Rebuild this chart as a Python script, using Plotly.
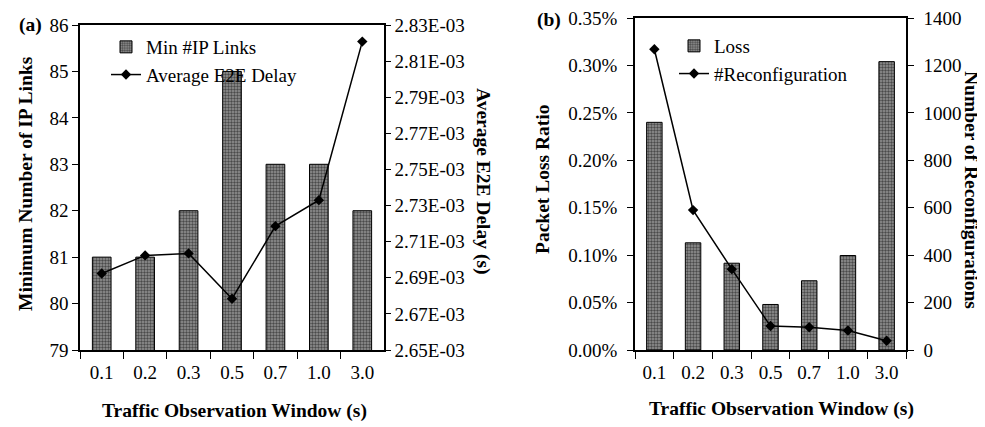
import plotly.graph_objects as go

# Data
windows = ["0.1", "0.2", "0.3", "0.5", "0.7", "1.0", "3.0"]

# (a) minimum IP links and average end-to-end delay
min_ip_links = [81, 81, 82, 85, 83, 83, 82]
avg_e2e_delay = [2.6924e-3, 2.7024e-3, 2.7035e-3, 2.6784e-3, 2.7186e-3, 2.7330e-3, 2.8208e-3]
delay_ticks = [2.65e-3, 2.67e-3, 2.69e-3, 2.71e-3, 2.73e-3, 2.75e-3, 2.77e-3, 2.79e-3, 2.81e-3, 2.83e-3]

# (b) packet loss ratio and number of reconfigurations
packet_loss = [0.00240, 0.00113, 0.000915, 0.00048, 0.00073, 0.000996, 0.00304]
reconfigs = [1268, 590, 341, 101, 96, 82, 39]
loss_ticks = [0, 0.0005, 0.001, 0.0015, 0.002, 0.0025, 0.003, 0.0035]
reconfig_ticks = [0, 200, 400, 600, 800, 1000, 1200, 1400]

FONT = "Liberation Serif"
bar_marker = dict(
    line=dict(color="black", width=1),
    pattern=dict(shape=".", fgcolor="#000000", bgcolor="#959595", size=3, solidity=0.5),
)

fig = go.Figure()

fig.add_trace(go.Bar(
    x=windows, y=min_ip_links, name="Min #IP Links", width=0.43,
    marker=bar_marker, xaxis="x", yaxis="y", legend="legend",
))
fig.add_trace(go.Scatter(
    x=windows, y=avg_e2e_delay, name="Average E2E Delay", mode="lines+markers",
    line=dict(color="black", width=1.5), marker=dict(symbol="diamond", size=8, color="black"),
    xaxis="x", yaxis="y2", legend="legend",
))
fig.add_trace(go.Bar(
    x=windows, y=packet_loss, name="Loss", width=0.4,
    marker=bar_marker, xaxis="x2", yaxis="y3", legend="legend2",
))
fig.add_trace(go.Scatter(
    x=windows, y=reconfigs, name="#Reconfiguration", mode="lines+markers",
    line=dict(color="black", width=1.5), marker=dict(symbol="diamond", size=8, color="black"),
    xaxis="x2", yaxis="y4", legend="legend2",
))

W, H = 985, 427
ax_common = dict(
    showgrid=False, zeroline=False, showline=True, linecolor="black", linewidth=1.5,
    ticks="outside", tickcolor="black", tickwidth=1, ticklen=6,
    tickfont=dict(family=FONT, size=19, color="black"), automargin=False,
    ticklabeloverflow="allow",
)
xcommon = dict(ax_common, type="category", range=[-0.5, 6.5], tickson="boundaries",
               ticklen=7, mirror=True, ticklabelstandoff=4)

fig.update_layout(
    width=W, height=H,
    margin=dict(l=0, r=0, t=0, b=0),
    paper_bgcolor="white", plot_bgcolor="white",
    font=dict(family=FONT, size=19, color="black"),
    barmode="overlay",
    xaxis=dict(xcommon, domain=[72 / W, 376 / W], anchor="y"),
    yaxis=dict(ax_common, domain=[1 - 342 / H, 1 - 17 / H], anchor="x",
               range=[79, 86], dtick=1),
    yaxis2=dict(ax_common, domain=[1 - 342 / H, 1 - 17 / H], anchor="x", overlaying="y",
                side="right", range=[delay_ticks[0], delay_ticks[-1]],
                tickvals=delay_ticks, ticktext=[f"{v:.2E}" for v in delay_ticks],
                ticklen=5, ticklabelstandoff=0),
    xaxis2=dict(xcommon, domain=[627 / W, 898 / W], anchor="y3"),
    yaxis3=dict(ax_common, domain=[1 - 342 / H, 1 - 10 / H], anchor="x2",
                range=[loss_ticks[0], loss_ticks[-1]], tickvals=loss_ticks,
                tickformat=".2%", ticklabelstandoff=6),
    yaxis4=dict(ax_common, domain=[1 - 342 / H, 1 - 10 / H], anchor="x2", overlaying="y3",
                side="right", range=[reconfig_ticks[0], reconfig_ticks[-1]],
                tickvals=reconfig_ticks, ticklabelstandoff=6),
    legend=dict(x=98 / W, y=1 - 20 / H, xanchor="left", yanchor="top",
                bgcolor="rgba(0,0,0,0)", font=dict(family=FONT, size=19), tracegroupgap=0),
    legend2=dict(x=666 / W, y=1 - 19 / H, xanchor="left", yanchor="top",
                 bgcolor="rgba(0,0,0,0)", font=dict(family=FONT, size=19), tracegroupgap=0),
)

title_font = dict(family=FONT, size=19.5, color="black")
labels = [
    ("<b>(a)</b>", 22, 17, 0),
    ("<b>(b)</b>", 541, 12, 0),
    ("<b>Traffic Observation Window (s)</b>", 226, 403, 0),
    ("<b>Traffic Observation Window (s)</b>", 773, 401, 0),
    ("<b>Minimum Number of IP Links</b>", 17, 176, -90),
    ("<b>Average E2E Delay (s)</b>", 475, 173, 90),
    ("<b>Packet Loss Ratio</b>", 534, 171, -90),
    ("<b>Number of Reconfigurations</b>", 964, 182, 90),
]
for text, px_x, px_y, angle in labels:
    fig.add_annotation(text=text, x=px_x / W, y=1 - px_y / H, xref="paper", yref="paper",
                       xanchor="center", yanchor="middle", showarrow=False,
                       textangle=angle, font=title_font)

fig.write_html("out.html")
